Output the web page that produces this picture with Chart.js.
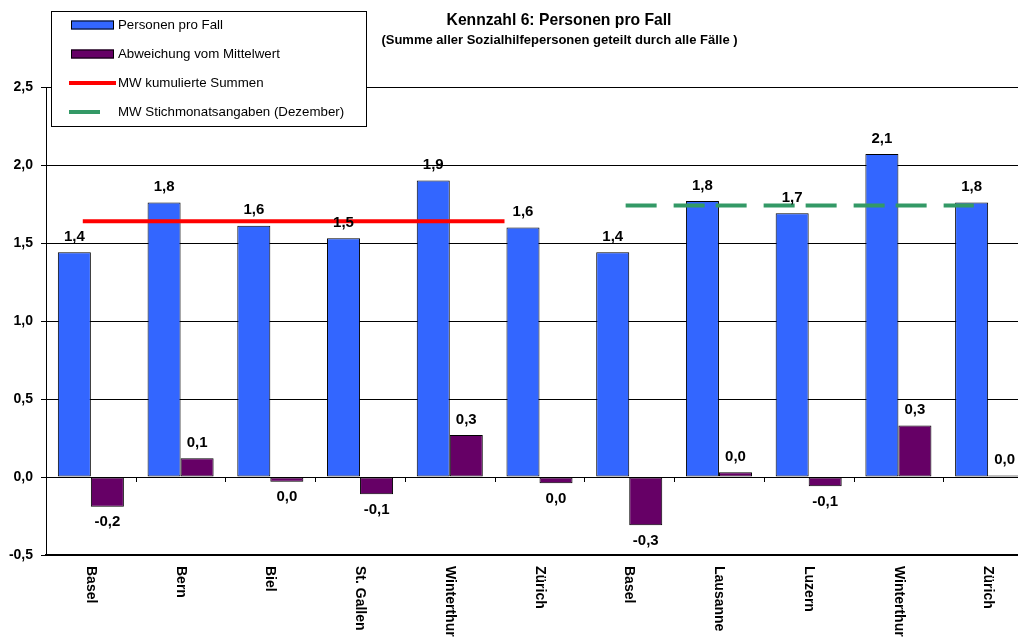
<!DOCTYPE html>
<html lang="de">
<head>
<meta charset="utf-8">
<title>Kennzahl 6: Personen pro Fall</title>
<script src="https://cdn.jsdelivr.net/npm/chart.js@4/dist/chart.umd.min.js"></script>
<style>
  html, body { margin: 0; padding: 0; background: #fff; overflow: hidden; }
  canvas { display: block; }
</style>
</head>
<body>
<canvas id="chart" width="1033" height="637"></canvas>
<script>
// Städte (Kategorien der x-Achse)
const staedte = ['Basel', 'Bern', 'Biel', 'St. Gallen', 'Winterthur', 'Zürich',
                 'Basel', 'Lausanne', 'Luzern', 'Winterthur', 'Zürich'];

// Personen pro Fall je Stadt
const personenProFall = [1.44, 1.76, 1.61, 1.53, 1.90, 1.60, 1.44, 1.77, 1.69, 2.07, 1.76];

// Abweichung vom jeweiligen Mittelwert
const abweichung = [-0.19, 0.12, -0.03, -0.11, 0.27, -0.04, -0.31, 0.03, -0.06, 0.33, 0.01];

// Mittelwert kumulierte Summen und seine Ausdehnung (Kategorienindex von/bis)
const mwKumuliert = 1.64;
const mwKumuliertBereich = [-0.09, 4.61];

// Mittelwert Stichmonatsangaben (Dezember) und seine Ausdehnung
const mwStichmonat = 1.74;
const mwStichmonatBereich = [5.96, 9.84];

// Beschriftete Werte der y-Achse
const yTickWerte = [-0.5, 0, 0.5, 1.0, 1.5, 2.0, 2.5];

const schrift = "'Liberation Sans', Arial, Helvetica, sans-serif";

function zahl(v) {
  const r = Math.round(v * 10) / 10 + 0;
  return r.toFixed(1).replace('.', ',');
}

// Wertbeschriftungen über bzw. unter den Säulen
const wertLabels = {
  id: 'wertLabels',
  afterDatasetsDraw(chart) {
    const ctx = chart.ctx;
    ctx.save();
    ctx.font = 'bold 15px ' + schrift;
    ctx.fillStyle = '#000';
    ctx.textAlign = 'center';
    ctx.textBaseline = 'middle';
    [0, 1].forEach(di => {
      const meta = chart.getDatasetMeta(di);
      const werte = chart.data.datasets[di].data;
      meta.data.forEach((el, i) => {
        const v = werte[i];
        const y = v >= 0 ? el.y - 15.5 : el.y + 15.5;
        ctx.fillText(zahl(v), el.x, y);
      });
    });
    ctx.restore();
  }
};

// Teilstriche auf der Nulllinie, senkrechte Kategoriebeschriftungen, Titel und Legende
const rahmen = {
  id: 'rahmen',
  afterDraw(chart) {
    const ctx = chart.ctx;
    const xs = chart.scales.x;
    const ys = chart.scales.y;
    const y0 = ys.getPixelForValue(0);

    ctx.save();
    ctx.strokeStyle = '#000';
    ctx.lineWidth = 1;
    for (let i = 1; i < staedte.length; i++) {
      const x = Math.round(xs.getPixelForValue(i - 0.5)) + 0.5;
      ctx.beginPath();
      ctx.moveTo(x, y0);
      ctx.lineTo(x, y0 + 5);
      ctx.stroke();
    }

    // Kategorien, um 90° gedreht
    ctx.font = 'bold 14px ' + schrift;
    ctx.fillStyle = '#000';
    ctx.textAlign = 'left';
    ctx.textBaseline = 'middle';
    staedte.forEach((name, i) => {
      ctx.save();
      ctx.translate(xs.getPixelForValue(i), chart.chartArea.bottom + 11);
      ctx.rotate(Math.PI / 2);
      ctx.fillText(name, 0, 0);
      ctx.restore();
    });

    // Titel
    ctx.textAlign = 'center';
    ctx.font = 'bold 15.7px ' + schrift;
    ctx.fillText('Kennzahl 6: Personen pro Fall', 559, 21);
    ctx.font = 'bold 13px ' + schrift;
    ctx.fillText('(Summe aller Sozialhilfepersonen geteilt durch alle Fälle )', 559.5, 40);

    // Legende
    ctx.fillStyle = '#fff';
    ctx.fillRect(51, 11, 316, 116);
    ctx.strokeStyle = '#000';
    ctx.lineWidth = 1;
    ctx.strokeRect(51.5, 11.5, 315, 115);
    chart.data.datasets.forEach((ds, i) => {
      const yc = 25 + i * 29;
      if (ds.type === 'line') {
        ctx.save();
        ctx.strokeStyle = ds.borderColor;
        ctx.lineWidth = ds.borderWidth;
        ctx.setLineDash(ds.borderDash || []);
        ctx.beginPath();
        ctx.moveTo(69, yc);
        ctx.lineTo(116, yc);
        ctx.stroke();
        ctx.restore();
      } else {
        ctx.fillStyle = ds.backgroundColor;
        ctx.fillRect(71, yc - 4.5, 43, 9);
        ctx.strokeStyle = '#000';
        ctx.strokeRect(71.5, yc - 4, 42, 8);
      }
      ctx.fillStyle = '#000';
      ctx.font = '13.3px ' + schrift;
      ctx.textAlign = 'left';
      ctx.textBaseline = 'middle';
      ctx.fillText(ds.label, 118, yc);
    });
    ctx.restore();
  }
};

new Chart(document.getElementById('chart').getContext('2d'), {
  type: 'bar',
  data: {
    labels: staedte,
    datasets: [
      {
        label: 'Personen pro Fall',
        data: personenProFall,
        backgroundColor: '#3366FF',
        borderColor: '#000',
        borderWidth: 1,
        borderSkipped: false,
        order: 1
      },
      {
        label: 'Abweichung vom Mittelwert',
        data: abweichung,
        backgroundColor: '#660066',
        borderColor: '#000',
        borderWidth: 1,
        borderSkipped: false,
        order: 1
      },
      {
        type: 'line',
        label: 'MW kumulierte Summen',
        parsing: false,
        data: mwKumuliertBereich.map(x => ({ x, y: mwKumuliert })),
        borderColor: '#FF0000',
        borderWidth: 4,
        borderCapStyle: 'butt',
        pointRadius: 0,
        fill: false,
        order: 0
      },
      {
        type: 'line',
        label: 'MW Stichmonatsangaben (Dezember)',
        parsing: false,
        data: mwStichmonatBereich.map(x => ({ x, y: mwStichmonat })),
        borderColor: '#339966',
        borderWidth: 4,
        borderDash: [31, 17, 31, 11],
        borderCapStyle: 'butt',
        pointRadius: 0,
        fill: false,
        order: 0
      }
    ]
  },
  options: {
    responsive: false,
    animation: false,
    devicePixelRatio: 1,
    layout: { padding: { top: 87, left: 0, right: 0, bottom: 0 } },
    datasets: { bar: { categoryPercentage: 0.736, barPercentage: 1 } },
    plugins: {
      legend: { display: false },
      title: { display: false },
      tooltip: { enabled: false }
    },
    scales: {
      x: {
        type: 'category',
        offset: true,
        grid: { display: false },
        border: { display: true, color: '#000', width: 2 },
        ticks: { display: false },
        afterFit(s) { s.height = 82; }
      },
      y: {
        type: 'linear',
        min: -0.5,
        max: 2.5,
        afterBuildTicks(s) { s.ticks = yTickWerte.map(v => ({ value: v })); },
        grid: { color: '#000', lineWidth: 1, tickLength: 5, drawTicks: true },
        border: { color: '#000', width: 1 },
        ticks: {
          color: '#000',
          padding: 8,
          font: { family: schrift, size: 14, weight: 'bold' },
          callback: v => zahl(v)
        },
        afterFit(s) { s.width = 46; }
      }
    }
  },
  plugins: [wertLabels, rahmen]
});
</script>
</body>
</html>
